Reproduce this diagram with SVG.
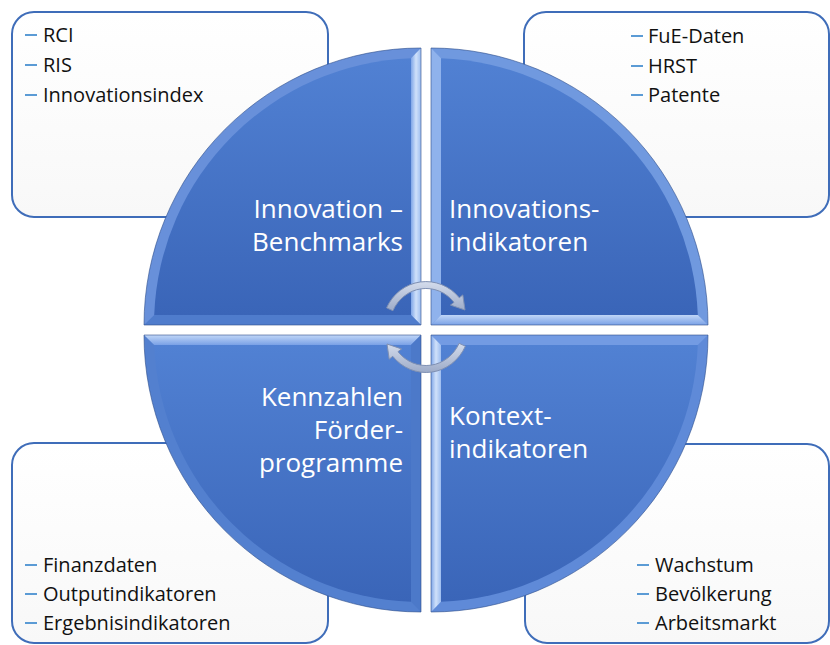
<svg xmlns="http://www.w3.org/2000/svg" width="830" height="645" viewBox="0 0 830 645">
<defs>
<style>
.box{fill:url(#boxg);stroke:#3f6db9;stroke-width:2}
.bul{stroke:#5b9bd5;stroke-width:2}
.it{font-family:"Open Sans","Liberation Sans",sans-serif;font-size:20px;fill:#111}
.lab{font-family:"Open Sans","Liberation Sans",sans-serif;font-size:26px;fill:#fff}
.main{fill:url(#qg)}
.edge{fill:none;stroke:#2f4f8a;stroke-width:1;stroke-opacity:0.6}
.arr{fill:url(#ag);stroke:#7f90b3;stroke-width:1}
</style>
<linearGradient id="boxg" x1="0" y1="0" x2="0" y2="1">
<stop offset="0" stop-color="#ffffff"/><stop offset="1" stop-color="#f8f8f8"/>
</linearGradient>
<linearGradient id="qg" x1="0" y1="0" x2="0" y2="1">
<stop offset="0" stop-color="#5181d3"/><stop offset="1" stop-color="#3a65b8"/>
</linearGradient>
<linearGradient id="hlv" x1="0" y1="0" x2="1" y2="0">
<stop offset="0" stop-color="#7fa6e8"/><stop offset="0.5" stop-color="#d0e1fa"/><stop offset="1" stop-color="#9dbdf0"/>
</linearGradient>
<linearGradient id="hlh" x1="0" y1="0" x2="0" y2="1">
<stop offset="0" stop-color="#c0d6f7"/><stop offset="1" stop-color="#7aa1e6"/>
</linearGradient>
<linearGradient id="ag" x1="0" y1="0" x2="0" y2="1">
<stop offset="0" stop-color="#d4dcec"/><stop offset="1" stop-color="#9dabc8"/>
</linearGradient>
</defs>

<g id="box-tl">
<rect class="box" x="12" y="12" width="316" height="205" rx="22"/>
<line class="bul" x1="25" y1="35" x2="37" y2="35"/><text class="it" x="43" y="42">RCI</text>
<line class="bul" x1="25" y1="65" x2="37" y2="65"/><text class="it" x="43" y="72">RIS</text>
<line class="bul" x1="25" y1="95" x2="37" y2="95"/><text class="it" x="43" y="102">Innovationsindex</text>
</g>
<g id="box-tr">
<rect class="box" x="524" y="12" width="305" height="205" rx="22"/>
<line class="bul" x1="631" y1="36" x2="643" y2="36"/><text class="it" x="648" y="43">FuE-Daten</text>
<line class="bul" x1="631" y1="66" x2="643" y2="66"/><text class="it" x="648" y="73">HRST</text>
<line class="bul" x1="631" y1="95" x2="643" y2="95"/><text class="it" x="648" y="102">Patente</text>
</g>
<g id="box-bl">
<rect class="box" x="12" y="443" width="316" height="200" rx="22"/>
<line class="bul" x1="25" y1="565" x2="37" y2="565"/><text class="it" x="43" y="572">Finanzdaten</text>
<line class="bul" x1="25" y1="594" x2="37" y2="594"/><text class="it" x="43" y="601">Outputindikatoren</text>
<line class="bul" x1="25" y1="623" x2="37" y2="623"/><text class="it" x="43" y="630">Ergebnisindikatoren</text>
</g>
<g id="box-br">
<rect class="box" x="525" y="444" width="304" height="199" rx="22"/>
<line class="bul" x1="637" y1="565" x2="649" y2="565"/><text class="it" x="655" y="572">Wachstum</text>
<line class="bul" x1="637" y1="594" x2="649" y2="594"/><text class="it" x="655" y="601">Bevölkerung</text>
<line class="bul" x1="637" y1="623" x2="649" y2="623"/><text class="it" x="655" y="630">Arbeitsmarkt</text>
</g>

<g id="q-tl">
<path d="M421,325 L144,325 A277,277 0 0 1 421,48 Z" fill="#6890da"/>
<polygon points="411,58.2 421,48 421,325 411,315" fill="url(#hlv)"/>
<polygon points="154.2,315 144,325 421,325 411,315" fill="#4f7ccc"/>
<path class="main" d="M411,315 L154.2,315 A267,267 0 0 1 411,58.2 Z"/>
<path class="edge" d="M421,325 L144,325 A277,277 0 0 1 421,48 Z"/>
<text class="lab" text-anchor="end" x="403" y="218">Innovation –</text>
<text class="lab" text-anchor="end" x="403" y="251">Benchmarks</text>
</g>
<g id="q-tr">
<path d="M431,325 L431,48 A277,277 0 0 1 708,325 Z" fill="#7099df"/>
<polygon points="431,48 441,58.2 441,315 431,325" fill="#8fb2ec"/>
<polygon points="441,315 697.8,315 708,325 431,325" fill="url(#hlh)"/>
<path class="main" d="M441,315 L441,58.2 A267,267 0 0 1 697.8,315 Z"/>
<path class="edge" d="M431,325 L431,48 A277,277 0 0 1 708,325 Z"/>
<text class="lab" x="449" y="218">Innovations-</text>
<text class="lab" x="449" y="251">indikatoren</text>
</g>
<g id="q-bl">
<path d="M421,335 L421,612 A277,277 0 0 1 144,335 Z" fill="#5380cf"/>
<polygon points="144,335 421,335 411,345 154.2,345" fill="url(#hlh)"/>
<polygon points="411,345 421,335 421,612 411,601.8" fill="#4c79c9"/>
<path class="main" d="M411,345 L411,601.8 A267,267 0 0 1 154.2,345 Z"/>
<path class="edge" d="M421,335 L421,612 A277,277 0 0 1 144,335 Z"/>
<text class="lab" text-anchor="end" x="403" y="406">Kennzahlen</text>
<text class="lab" text-anchor="end" x="403" y="439">Förder-</text>
<text class="lab" text-anchor="end" x="403" y="472">programme</text>
</g>
<g id="q-br">
<path d="M431,335 L708,335 A277,277 0 0 1 431,612 Z" fill="#5f8ad8"/>
<polygon points="431,335 708,335 697.8,345 441,345" fill="#739be3"/>
<polygon points="431,335 441,345 441,601.8 431,612" fill="url(#hlv)"/>
<path class="main" d="M441,345 L697.8,345 A267,267 0 0 1 441,601.8 Z"/>
<path class="edge" d="M431,335 L708,335 A277,277 0 0 1 431,612 Z"/>
<text class="lab" x="449" y="425">Kontext-</text>
<text class="lab" x="449" y="458">indikatoren</text>
</g>

<g id="connectors">
<path class="arr" d="M386.6,307.8 A43.5,45.5 0 0 1 459.3,297.8 L462.8,294.9 L465,310 L450.5,305.1 L454,302.3 A36.5,38.5 0 0 0 392.9,310.7 Z"/>
<path class="arr" d="M465.4,346.2 A43.5,45.5 0 0 1 392.7,356.3 L389.2,359.2 L387,344 L401.5,348.9 L398,351.7 A36.5,38.5 0 0 0 459.1,343.3 Z"/>
</g>
</svg>
